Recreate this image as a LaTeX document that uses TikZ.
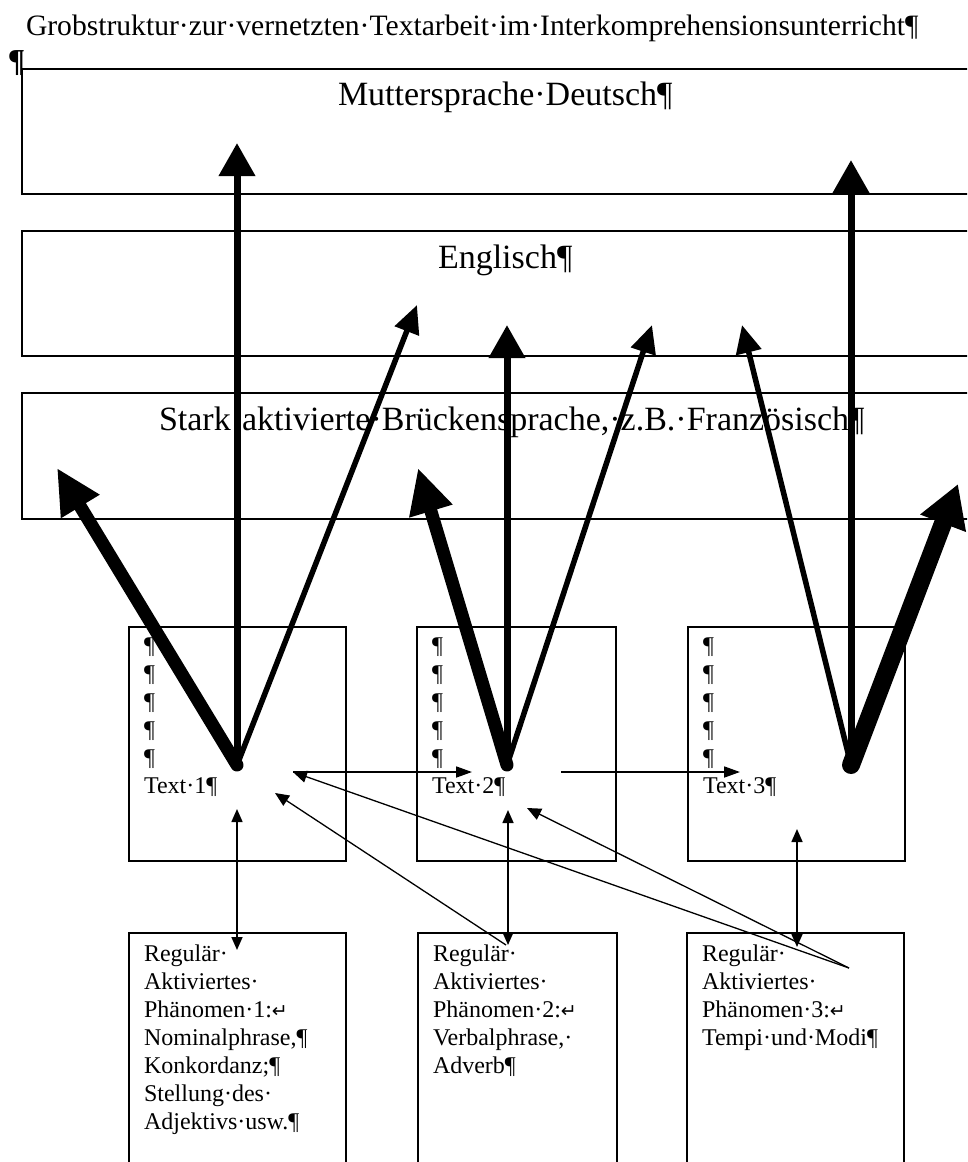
\documentclass[tikz,border=0pt]{standalone}
\usepackage{fontspec}
\setmainfont{Liberation Serif}
\newfontfamily\symfont{DejaVu Sans}
\usetikzlibrary{arrows.meta,calc}
\newcommand\retmark{{\symfont\fontsize{19}{19}\selectfont ↵}}
\begin{document}
\begin{tikzpicture}[x=1pt,y=-1pt,
  every node/.style={inner sep=0pt, outer sep=0pt},
  frame/.style={draw, line width=1.5pt, anchor=north west},
  bigtxt/.style={font=\fontsize{34}{40}\selectfont, anchor=base west},
  titletxt/.style={font=\fontsize{29.6}{36}\selectfont, anchor=base west},
  smalltxt/.style={font=\fontsize{24}{28}\selectfont, anchor=base west},
  vthick/.style={line width=7pt, line cap=round, -{Triangle[length=33pt,width=35pt]}},
  dthick/.style={line width=5.5pt, line cap=round, -{Triangle[length=28pt,width=25pt]}},
  heavy/.style={line width=13pt, line cap=round, -{Triangle[length=45pt,width=42pt]}},
  heavier/.style={line width=18pt, line cap=round, -{Triangle[length=42pt,width=46pt]}},
  thinarr/.style={line width=1.8pt, -{Triangle[length=16pt,width=11pt]}},
  hairarr/.style={line width=1.3pt, -{Triangle[length=14pt,width=12pt]}},
  dblarr/.style={line width=1.6pt, {Triangle[length=13pt,width=11pt]}-{Triangle[length=13pt,width=11pt]}},
]
\useasboundingbox (0,0) rectangle (967,1162);
\clip (0,0) rectangle (967,1162);

% title
\node[titletxt] (title) at (26,35) {Grobstruktur·zur·vernetzten·Textarbeit·im·Interkomprehensionsunterricht¶};
\node[font=\bfseries\fontsize{32}{36}\selectfont, anchor=base west] (pil) at (8,71) {¶};

% language bands
\node[frame, minimum width=968pt, minimum height=125pt] (mut) at (22,69) {};
\node[frame, minimum width=968pt, minimum height=125pt] (eng) at (22,231) {};
\node[frame, minimum width=968pt, minimum height=126pt] (fra) at (22,393) {};
\node[bigtxt] (mutlbl) at (338,105) {Muttersprache·Deutsch¶};
\node[bigtxt] (englbl) at (438,268) {Englisch¶};
\node[bigtxt] (fralbl) at (159,430) {Stark·aktivierte·Brückensprache,·z.B.·Französisch¶};

% text boxes
\node[frame, minimum width=217pt, minimum height=234pt] (t1) at (129,627) {};
\node[frame, minimum width=199pt, minimum height=234pt] (t2) at (417,627) {};
\node[frame, minimum width=217pt, minimum height=234pt] (t3) at (688,627) {};
\foreach \b/\n in {t1/1,t2/2,t3/3}{
  \foreach \k in {0,...,4}{
    \node[smalltxt] (\b-p\k) at ($(\b.north west)+(15,26+28*\k)$) {¶};
  }
  \node[smalltxt] (\b-lbl) at ($(\b.north west)+(15,166)$) {Text·\n¶};
}

% phenomenon boxes
\node[frame, minimum width=217pt, minimum height=260pt] (p1) at (129,933) {};
\node[frame, minimum width=199pt, minimum height=260pt] (p2) at (418,933) {};
\node[frame, minimum width=217pt, minimum height=260pt] (p3) at (687,933) {};
\foreach \t [count=\i from 0] in {Regulär·,Aktiviertes·,Phänomen·1:\retmark,{Nominalphrase,¶},{Konkordanz;¶},Stellung·des·,{Adjektivs·usw.¶}}{
  \node[smalltxt] (p1-l\i) at ($(p1.north west)+(15,28+28*\i)$) {\t};
}
\foreach \t [count=\i from 0] in {Regulär·,Aktiviertes·,Phänomen·2:\retmark,{Verbalphrase,·},Adverb¶}{
  \node[smalltxt] (p2-l\i) at ($(p2.north west)+(15,28+28*\i)$) {\t};
}
\foreach \t [count=\i from 0] in {Regulär·,Aktiviertes·,Phänomen·3:\retmark,Tempi·und·Modi¶}{
  \node[smalltxt] (p3-l\i) at ($(p3.north west)+(15,28+28*\i)$) {\t};
}

% arrow end points
\coordinate (a1) at (237,765);
\coordinate (a2) at (507,765);
\coordinate (a3) at (851,765);
\coordinate (m1) at (237,143);
\coordinate (m3) at (851,160);
\coordinate (e1) at (417,305);
\coordinate (e2v) at (507,325);
\coordinate (e2r) at (652,325);
\coordinate (e3) at (742,325);
\coordinate (f1) at (57,468);
\coordinate (f2) at (418,468);
\coordinate (f3) at (958,484);

% thick arrows
\draw[heavy] (a1) -- (f1);
\draw[vthick] (a1) -- (m1);
\draw[dthick] (a1) -- (e1);
\draw[heavy] (a2) -- (f2);
\draw[vthick] (a2) -- (e2v);
\draw[dthick] (a2) -- (e2r);
\draw[dthick] (a3) -- (e3);
\draw[vthick] (a3) -- (m3);
\draw[heavier] (a3) -- (f3);

% thin arrows
\coordinate (h1s) at (293,772);
\coordinate (h1e) at (472,772);
\coordinate (h2s) at (561,772);
\coordinate (h2e) at (740,772);
\draw[thinarr] (h1s) -- (h1e);
\draw[thinarr] (h2s) -- (h2e);

\coordinate (v1t) at (237,809); \coordinate (v1b) at (237,950);
\coordinate (v2t) at (508,810); \coordinate (v2b) at (508,945);
\coordinate (v3t) at (797,829); \coordinate (v3b) at (797,947);
\draw[dblarr] (v1t) -- (v1b);
\draw[dblarr] (v2t) -- (v2b);
\draw[dblarr] (v3t) -- (v3b);

\coordinate (d1s) at (506,945);
\coordinate (d1e) at (275,793);
\coordinate (d23s) at (849,968);
\coordinate (d2e) at (527,808);
\draw[hairarr] (d1s) -- (d1e);
\draw[hairarr] (d23s) -- (d2e);
\draw[hairarr] (d23s) -- (h1s);
\end{tikzpicture}
\end{document}
